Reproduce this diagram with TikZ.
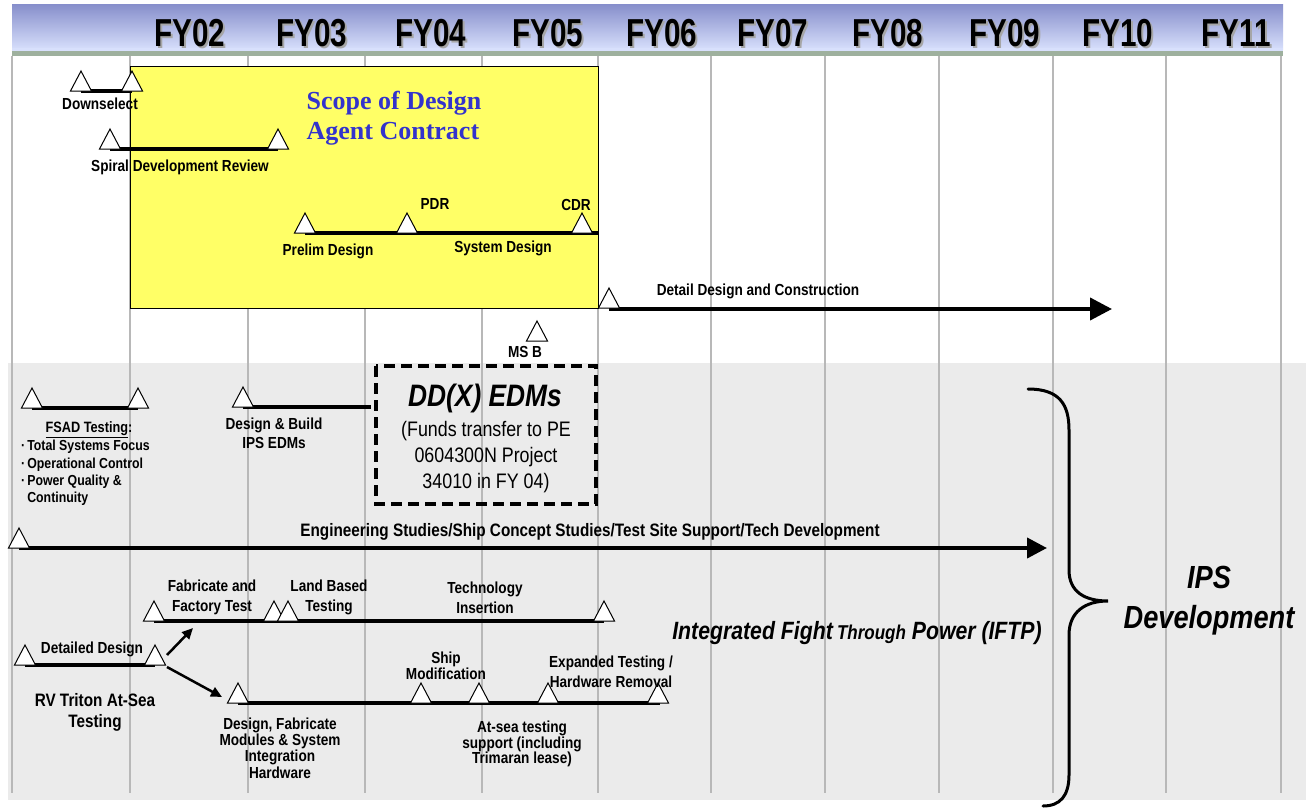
\documentclass[tikz,border=0pt]{standalone}
\usepackage{fontspec}
\setmainfont{Liberation Sans}[FakeStretch=0.85]
\newfontfamily\titleserif{Liberation Serif}
\newfontfamily\yearfont{Liberation Sans}[FakeStretch=0.76]
\usetikzlibrary{arrows.meta}

\definecolor{hdrtop}{RGB}{136,144,204}
\definecolor{hdrbot}{RGB}{216,224,252}
\definecolor{hdrline}{RGB}{158,176,158}
\definecolor{gridgray}{RGB}{184,184,184}
\definecolor{panelgray}{RGB}{235,235,235}
\definecolor{scopeyellow}{RGB}{255,255,102}
\definecolor{scopeblue}{RGB}{51,51,204}

\tikzset{
  mstone/.pic={\draw[fill=white,line width=1pt,line join=miter] (-10.5,0)--(0,-20)--(10.5,0)--cycle;},
  bar/.style={line width=4pt},
  longarrow/.style={line width=4pt,-{Triangle[length=20pt,width=20pt]}},
  shortarrow/.style={line width=2.5pt,-{Triangle[length=11pt,width=10pt]}},
  lbl/.style={font=\fontsize{16}{18}\selectfont\bfseries,inner sep=0pt,align=center},
  small/.style={font=\fontsize{15}{16}\selectfont\bfseries,inner sep=0pt,align=center},
  fylabel/.style={font=\yearfont\fontsize{39}{39}\selectfont\bfseries,inner sep=0pt},
  fyshadow/.style={fylabel,text=black!35},
  gridline/.style={draw=gridgray,line width=1.6pt},
}

\begin{document}
\begin{tikzpicture}[x=1pt,y=-1pt]
\useasboundingbox (0,0) rectangle (1306,808);
\fill[white] (0,0) rectangle (1306,808);

% lower panel
\fill[panelgray] (8,363) rectangle (1306,800);

% year header
\shade[top color=hdrtop,bottom color=hdrbot] (12,5) rectangle (1283,50);
\fill[hdrbot] (12,48) rectangle (1283,51);
\fill[hdrline] (12,51) rectangle (1283,56);

% year columns
\foreach \gx in {12,130,248,365,482,598,711,825,939,1053,1166,1281}
  \draw[gridline] (\gx,56) -- (\gx,793);

\foreach \yr/\cx in {FY02/190,FY03/312,FY04/431,FY05/548,FY06/662,FY07/773,FY08/888,FY09/1005,FY10/1118,FY11/1236}{
  \node[fyshadow] at (\cx+2,35) {\yr};
  \node[fylabel] (hdr\yr) at (\cx,33) {\yr};
}

% design agent contract scope
\draw[fill=scopeyellow,line width=1pt] (130,67) rectangle (598,308);
\node[font=\titleserif\fontsize{26}{30}\selectfont\bfseries,text=scopeblue,align=left,inner sep=0pt]
  (scope) at (394,118) {Scope of Design\\Agent Contract};

% milestone points, upper part
\coordinate (dsA) at (81,91);   \coordinate (dsB) at (132,91);
\coordinate (spA) at (110,149); \coordinate (spB) at (278,149);
\coordinate (pdA) at (305,233); \coordinate (pdB) at (407,233);
\coordinate (pdC) at (582,233); \coordinate (pdEnd) at (598,233);
\coordinate (ddA) at (609,308); \coordinate (ddEnd) at (1112,309);
\coordinate (msb) at (537,341);

\draw[bar] (dsA) -- (dsB);
\draw[bar] (spA) -- (spB);
\draw[bar] (pdA) -- (pdEnd);
\draw[line width=4pt,-{Triangle[length=22pt,width=22pt]}] ([yshift=-1pt]ddA) -- (ddEnd);

\foreach \m in {dsA,dsB,spA,spB,pdA,pdB,pdC,ddA,msb}
  \pic at (\m) {mstone};

\node[lbl] (tDown) at (100,104) {Downselect};
\node[lbl] (tSpiral) at (180,167) {Spiral Development Review};
\node[lbl] (tPDR) at (435,204) {PDR};
\node[lbl] (tCDR) at (576,205) {CDR};
\node[lbl] (tPrelim) at (328,251) {Prelim Design};
\node[lbl] (tSys) at (503,248) {System Design};
\node[lbl] (tDetail) at (758,291) {Detail Design and Construction};
\node[lbl] (tMSB) at (525,352) {MS B};

% milestone points, lower part
\coordinate (fsA) at (32,408);  \coordinate (fsB) at (138,408);
\coordinate (dbA) at (243,407); \coordinate (dbEnd) at (371,407);
\coordinate (esA) at (19,548);  \coordinate (esEnd) at (1047,548);
\coordinate (fbA) at (154,621); \coordinate (fbB) at (274,621);
\coordinate (fbC) at (288,621); \coordinate (fbD) at (604,621);
\coordinate (dtA) at (25,665);  \coordinate (dtB) at (155,665);
\coordinate (lwA) at (238,703); \coordinate (lwB) at (421,703);
\coordinate (lwC) at (479,703); \coordinate (lwD) at (548,703);
\coordinate (lwE) at (658,703); \coordinate (lwEnd) at (660,703);
\coordinate (upFrom) at (167,655); \coordinate (upTo) at (193,628);
\coordinate (dnFrom) at (167,667); \coordinate (dnTo) at (222,697);

\draw[bar] (fsA) -- (fsB);
\draw[bar] (dbA) -- (dbEnd);
\draw[longarrow] (esA) -- (esEnd);
\draw[bar] (fbA) -- (fbD);
\draw[bar] (dtA) -- (dtB);
\draw[bar] (lwA) -- (lwEnd);
\draw[shortarrow] (upFrom) -- (upTo);
\draw[shortarrow] (dnFrom) -- (dnTo);

\foreach \m in {fsA,fsB,dbA,esA,fbA,fbB,fbC,fbD,dtA,dtB,lwA,lwB,lwC,lwD,lwE}
  \pic at (\m) {mstone};

% EDM box
\draw[line width=3.5pt,dash pattern=on 11pt off 6pt] (376,366) rectangle (596,504);
\node[font=\fontsize{31}{31}\selectfont\bfseries\itshape,inner sep=0pt] (edmT) at (485,398) {DD(X) EDMs};
\node[font=\fontsize{21}{26}\selectfont,inner sep=0pt,align=center] (edmB) at (486,457)
  {(Funds transfer to PE\\0604300N Project\\34010 in FY 04)};

% lower labels
\node[small] (tFSAD) at (89,430) {\underline{FSAD Testing}:};
\node[font=\fontsize{14.5}{17.4}\selectfont\bfseries,inner sep=0pt,align=left,anchor=west] (tFSADlist) at (21,473)
  {·\hspace{2pt}Total Systems Focus\\·\hspace{2pt}Operational Control\\·\hspace{2pt}Power Quality \&\\\phantom{·}\hspace{2pt}Continuity};
\node[lbl,font=\fontsize{16}{19}\selectfont\bfseries] (tBuild) at (274,433) {Design \& Build\\IPS EDMs};
\node[lbl,font=\fontsize{18}{18}\selectfont\bfseries] (tEng) at (590,532) {Engineering Studies/Ship Concept Studies/Test Site Support/Tech Development};
\node[lbl,font=\fontsize{16}{20}\selectfont\bfseries] (tFab) at (212,597) {Fabricate and\\Factory Test};
\node[lbl,font=\fontsize{16}{20}\selectfont\bfseries] (tLand) at (329,597) {Land Based\\Testing};
\node[lbl,font=\fontsize{16}{20}\selectfont\bfseries] (tTech) at (485,598) {Technology\\Insertion};
\node[lbl] (tDD) at (92,649) {Detailed Design};
\node[lbl,font=\fontsize{18}{21}\selectfont\bfseries] (tRV) at (95,712) {RV Triton At-Sea\\Testing};
\node[lbl,font=\fontsize{16}{16.3}\selectfont\bfseries] (tDFM) at (280,748)
  {Design, Fabricate\\Modules \& System\\Integration\\Hardware};
\node[lbl,font=\fontsize{16}{16}\selectfont\bfseries] (tShip) at (446,666) {Ship\\Modification};
\node[lbl,font=\fontsize{16}{20}\selectfont\bfseries] (tExp) at (611,672) {Expanded Testing /\\Hardware Removal};
\node[lbl,font=\fontsize{16}{15.5}\selectfont\bfseries] (tSea) at (522,744)
  {At-sea testing\\support (including\\Trimaran lease)};

\node[font=\bfseries\itshape,inner sep=0pt] (tIFTP) at (857,633)
  {\fontsize{25}{25}\selectfont Integrated Fight\,{\fontsize{20}{20}\selectfont Through} Power (IFTP)};

% program brace
\draw[line width=3pt,line cap=round] (1028,389)
  .. controls (1060,389) and (1069,405) .. (1069,430) -- (1069,570)
  .. controls (1069,592) and (1085,601) .. (1108,601)
  .. controls (1085,601) and (1069,612) .. (1069,635) -- (1069,775)
  .. controls (1069,796) and (1060,806) .. (1043,806);
\node[font=\fontsize{32}{40}\selectfont\bfseries\itshape,inner sep=0pt,align=center] (tIPS) at (1209,601)
  {IPS\\Development};

\end{tikzpicture}
\end{document}
